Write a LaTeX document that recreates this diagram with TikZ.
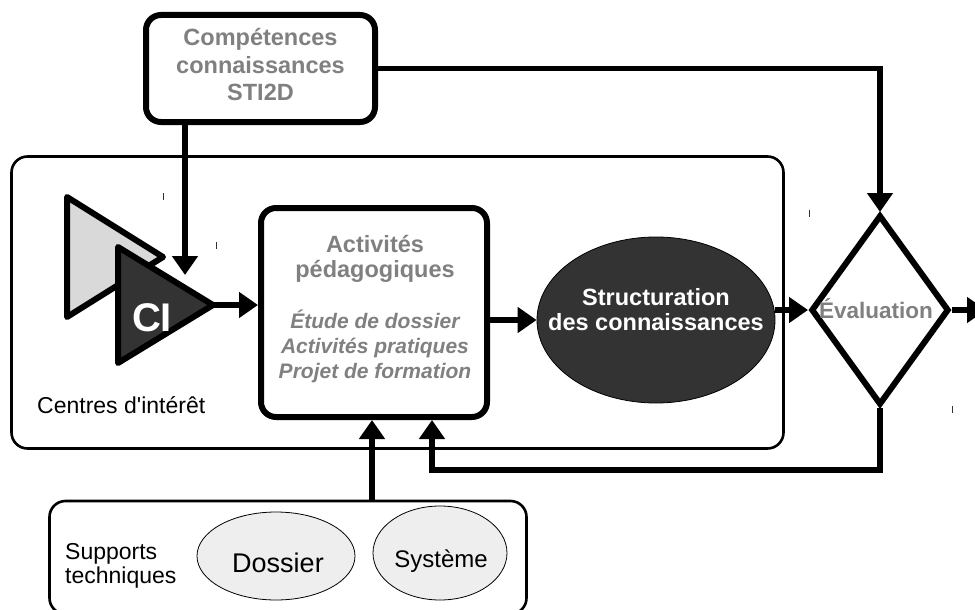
\documentclass[tikz,border=0pt]{standalone}
\usepackage{fontspec}
\setmainfont{Liberation Sans}[Ligatures=TeXOff]
\usetikzlibrary{arrows.meta,shapes.geometric}
\definecolor{txtgrey}{HTML}{808080}
\definecolor{darkfill}{HTML}{333333}
\definecolor{lightfill}{HTML}{D9D9D9}
\definecolor{ellfill}{HTML}{EEEEEE}
\begin{document}
\begin{tikzpicture}[x=1pt,y=-1pt,
  thickbox/.style={draw, line width=6pt, rounded corners=15pt, inner sep=0pt, fill=white},
  thinbox/.style={draw, line width=2.6pt, rounded corners=16pt, inner sep=0pt},
  arr/.style={line width=5.5pt, -{Triangle[length=19pt,width=25pt]}},
  tri/.style={draw, line width=6pt, line join=round},
  gbold/.style={font=\bfseries\fontsize{23.5}{27}\selectfont, text=txtgrey, anchor=base, inner sep=0pt},
  gital/.style={font=\bfseries\itshape\fontsize{21}{25}\selectfont, text=txtgrey, anchor=base, inner sep=0pt},
  wbold/.style={font=\bfseries\fontsize{23.5}{27}\selectfont, text=white, anchor=base, inner sep=0pt},
  plain/.style={font=\fontsize{23}{27}\selectfont, anchor=base west, inner sep=0pt},
  softell/.style={ellipse, draw, line width=0.8pt, fill=ellfill, inner sep=0pt},
  tick/.style={line width=1pt, draw=black!80}
]
\useasboundingbox (0,0) rectangle (975,610);

% containers
\node[thinbox, minimum width=772pt, minimum height=292pt] (cont) at (397.5,302.5) {};
\node[thinbox, minimum width=477pt, minimum height=113pt] (sup) at (288,557.5) {};

% competences box
\node[thickbox, minimum width=229pt, minimum height=107pt] (comp) at (260.5,68.5) {};
\node[gbold] (c1) at (260.5,46) {Compétences};
\node[gbold] (c2) at (260.5,74) {connaissances};
\node[gbold] (c3) at (260.5,100) {STI2D};

% centres d'interet triangles
\path[tri, fill=lightfill] (67,197) -- (67,317) -- (163,257) -- cycle;
\path[tri, fill=darkfill] (118,247) -- (118,363) -- (213,305) -- cycle;
\coordinate (citip) at (213,305);
\node[font=\bfseries\fontsize{40}{42}\selectfont, text=white, anchor=base, inner sep=0pt] (ci) at (152,331) {CI};
\node[plain] (centres) at (37,413) {Centres d'intérêt};

% activites box
\node[thickbox, minimum width=226pt, minimum height=209pt] (act) at (374,312.5) {};
\node[gbold] (a1) at (375,252) {Activités};
\node[gbold] (a2) at (375,277) {pédagogiques};
\node[gital] (a3) at (375,328) {Étude de dossier};
\node[gital] (a4) at (375,353) {Activités pratiques};
\node[gital] (a5) at (375,378) {Projet de formation};

% structuration ellipse
\node[ellipse, draw, line width=0.8pt, fill=darkfill, inner sep=0pt, minimum width=238pt, minimum height=166pt] (struct) at (656,320) {};
\node[wbold] (s1) at (656,305) {Structuration};
\node[wbold] (s2) at (656,330) {des connaissances};

% evaluation diamond
\node[diamond, draw, line width=6pt, inner sep=0pt, minimum width=138pt, minimum height=190pt] (diam) at (880,310) {};
\node[font=\bfseries\fontsize{22.5}{26}\selectfont, text=txtgrey, anchor=base, inner sep=0pt] (ev) at (876,318) {Évaluation};

% supports
\node[plain] (sp1) at (65,559) {Supports};
\node[plain] (sp2) at (65,583) {techniques};
\node[softell, minimum width=158pt, minimum height=88pt] (dos) at (276,556) {};
\node[font=\fontsize{27}{31}\selectfont, anchor=base, inner sep=0pt] (dost) at (278,572) {Dossier};
\node[softell, minimum width=134pt, minimum height=94pt] (sys) at (440,553) {};
\node[font=\fontsize{24}{28}\selectfont, anchor=base, inner sep=0pt] (syst) at (441,567) {Système};

% connectors
\coordinate (cin) at (185,275);
\coordinate (fb) at (432,470);
\coordinate (sx) at (372,0);
\coordinate (outc) at (986,310);
\draw[arr] (comp.south -| cin) -- (cin);
\draw[arr] (comp.east) -| (diam.north);
\draw[arr] (citip) -- (citip -| act.west);
\draw[arr] (act.east |- struct.west) -- (struct.west);
\draw[arr] (struct.east |- diam.west) -- (diam.west);
\draw[arr] (diam.east) -- (outc);
\draw[arr] (diam.south) |- (fb) -- (fb |- act.south);
\draw[arr] (sup.north -| sx) -- (act.south -| sx);

% small stray marks
\coordinate (t1) at (163,193);
\coordinate (t2) at (216,242);
\coordinate (t3) at (809,210);
\coordinate (t4) at (952,406);
\draw[tick] (t1) -- ++(0,7);
\draw[tick] (t2) -- ++(0,7);
\draw[tick] (t3) -- ++(0,7);
\draw[tick] (t4) -- ++(0,7);
\end{tikzpicture}
\end{document}
